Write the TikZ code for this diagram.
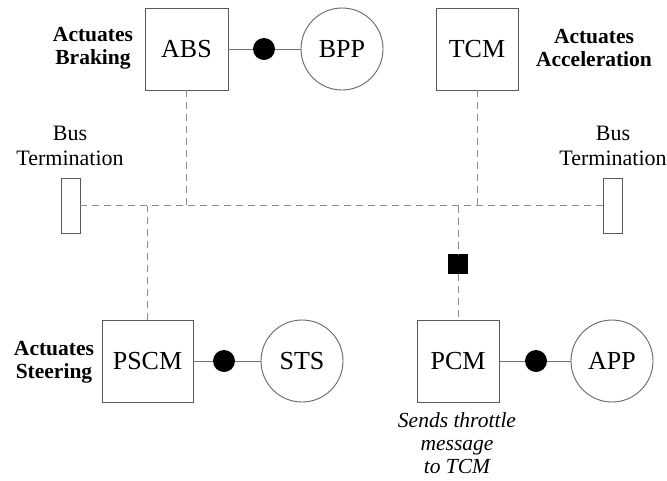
\documentclass[tikz,border=0pt]{standalone}
\usepackage{fontspec}
\setmainfont{Liberation Serif}
\begin{document}
\begin{tikzpicture}[x=1pt,y=-1pt,
  ecu/.style={draw=black!65,line width=0.9pt,rectangle,minimum height=82pt,inner sep=0pt,font=\fontsize{26}{30}\selectfont},
  sensor/.style={draw=black!60,line width=0.9pt,circle,minimum size=82pt,inner sep=0pt,font=\fontsize{26}{30}\selectfont},
  joint/.style={circle,fill=black,minimum size=22pt,inner sep=0pt},
  gate/.style={rectangle,fill=black,minimum size=20pt,inner sep=0pt},
  term/.style={draw=black!65,line width=0.9pt,rectangle,minimum width=19pt,minimum height=55pt,inner sep=0pt},
  role/.style={align=center,font=\fontsize{21.5}{23}\selectfont\bfseries,inner sep=0pt},
  plain/.style={align=center,font=\fontsize{22}{25}\selectfont,inner sep=0pt},
  note/.style={align=center,font=\fontsize{21.5}{23}\selectfont\itshape,inner sep=0pt},
  wire/.style={draw=black!55,line width=0.9pt},
  bus/.style={draw=black!45,line width=1pt,dash pattern=on 7pt off 5pt}]
\useasboundingbox (0,0) rectangle (667,480);
% top row
\node[ecu,minimum width=83pt] (abs) at (186.5,49) {ABS};
\node[joint] (d1) at (264,49) {};
\node[sensor] (bpp) at (342,49) {BPP};
\node[ecu,minimum width=82pt] (tcm) at (477,49) {TCM};
\node[role] (lbrk) at (93,48) {Actuates\\Braking};
\node[role] (lacc) at (594,48) {Actuates\\Acceleration};
% terminations
\node[term] (tl) at (70.5,205.5) {};
\node[term] (tr) at (612.5,205.5) {};
\node[plain] (ltl) at (70,145.5) {Bus\\Termination};
\node[plain] (ltr) at (613,145.5) {Bus\\Termination};
% bottom row
\node[ecu,minimum width=91pt] (pscm) at (147.5,361) {PSCM};
\node[joint] (d2) at (224,361) {};
\node[sensor] (sts) at (302,361) {STS};
\node[ecu,minimum width=82pt] (pcm) at (458,361) {PCM};
\node[joint] (d3) at (536,361) {};
\node[sensor] (app) at (612,361) {APP};
\node[gate] (gw) at (458,264) {};
\node[role] (lstr) at (54,362) {Actuates\\Steering};
\node[note] (lpcm) at (457,443) {Sends throttle\\message\\to TCM};
% bus
\coordinate (bl) at (tl.east);
\draw[bus] (tl.east) -- (tr.west);
\draw[bus] (abs.south) -- (abs.south |- bl);
\draw[bus] (tcm.south) -- (tcm.south |- bl);
\draw[bus] (pscm.north) -- (pscm.north |- bl);
\draw[bus] (gw.north |- bl) -- (gw.north);
\draw[bus] (gw.south) -- (pcm.north);
% sensor links
\draw[wire] (abs.east) -- (d1) -- (bpp.west);
\draw[wire] (pscm.east) -- (d2) -- (sts.west);
\draw[wire] (pcm.east) -- (d3) -- (app.west);
\end{tikzpicture}
\end{document}
